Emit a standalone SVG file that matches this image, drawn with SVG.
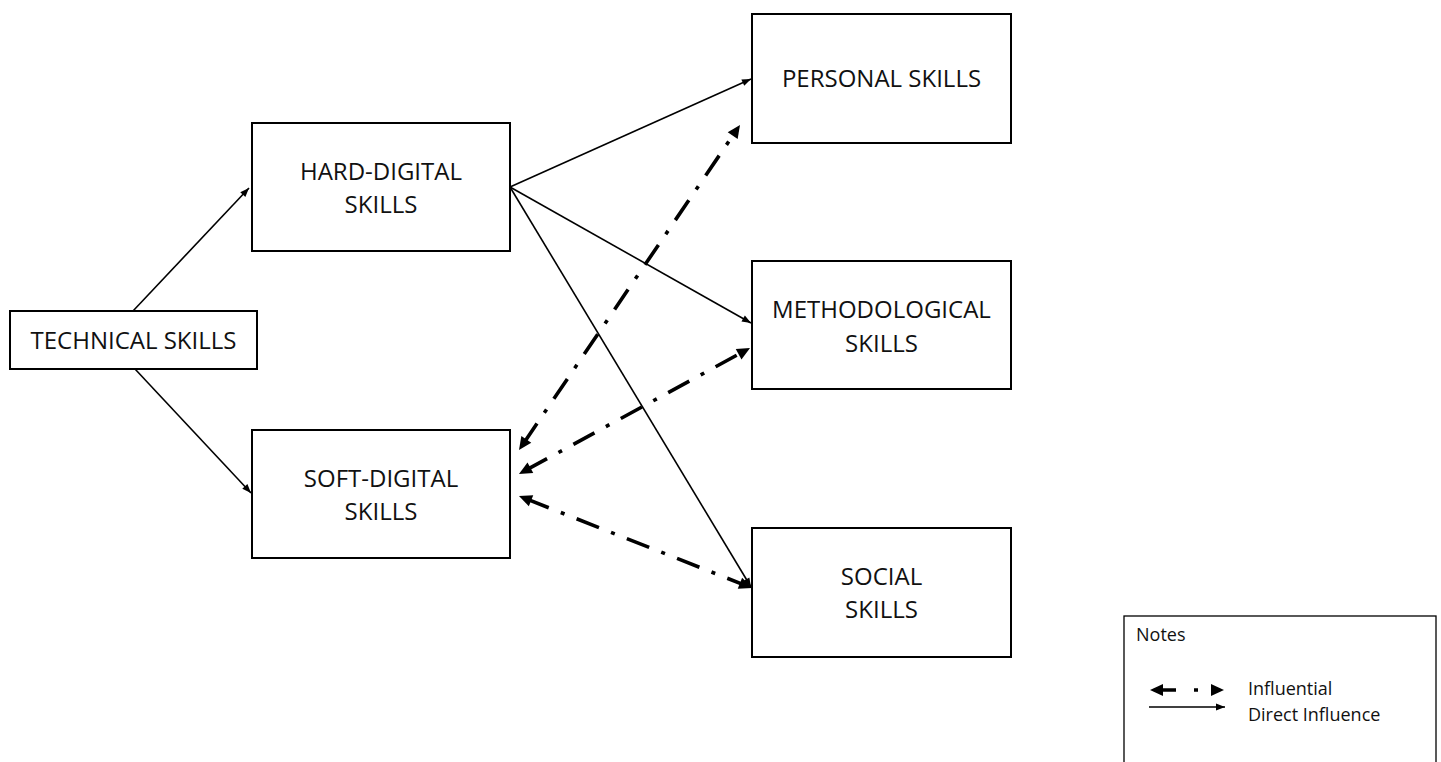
<svg xmlns="http://www.w3.org/2000/svg" width="1441" height="762" viewBox="0 0 1441 762">
  <style>
    .box { fill: #ffffff; stroke: #000000; stroke-width: 2; }
    .label { font-family: "Open Sans", "Noto Sans", "Liberation Sans", sans-serif; font-size: 24px; fill: #111111; text-anchor: middle; }
    .note { font-family: "Open Sans", "Noto Sans", "Liberation Sans", sans-serif; font-size: 18px; fill: #111111; }
    .direct { stroke: #000000; stroke-width: 1.6; fill: none; marker-end: url(#head-small); }
    .influence { stroke: #000000; stroke-width: 3.6; fill: none; stroke-dasharray: 24 13 4 13; marker-start: url(#head-big); marker-end: url(#head-big); }
  </style>
  <defs>
    <marker id="head-small" markerUnits="userSpaceOnUse" markerWidth="10" markerHeight="8" refX="9" refY="3.5" orient="auto" overflow="visible">
      <path d="M0,0 L9,3.5 L0,7 z" fill="#000000"/>
    </marker>
    <marker id="head-big" markerUnits="userSpaceOnUse" markerWidth="16" markerHeight="14" refX="5" refY="6" orient="auto-start-reverse" overflow="visible">
      <path d="M0,0 L13,6 L0,12 z" fill="#000000"/>
    </marker>
  </defs>

  <rect width="1441" height="762" fill="#ffffff"/>

  <!-- connectors -->
  <g id="connectors">
    <line class="direct" x1="133" y1="311" x2="249" y2="188"/>
    <line class="direct" x1="135" y1="369" x2="251" y2="493"/>
    <line class="direct" x1="510" y1="187" x2="751" y2="79"/>
    <line class="direct" x1="510" y1="187" x2="751" y2="323"/>
    <line class="direct" x1="510" y1="187" x2="751" y2="587"/>
    <line class="influence" x1="523.5" y1="443.4" x2="735.5" y2="131.6"/>
    <line class="influence" x1="526" y1="470.2" x2="743" y2="351.8"/>
    <line class="influence" x1="526.4" y1="498.9" x2="744.6" y2="585.1"/>
  </g>

  <!-- nodes -->
  <g id="technical">
    <rect class="box" x="10" y="311" width="247" height="58"/>
    <text class="label" x="133.5" y="349">TECHNICAL SKILLS</text>
  </g>
  <g id="hard-digital">
    <rect class="box" x="252" y="123" width="258" height="128"/>
    <text class="label" x="381" y="180">HARD-DIGITAL</text>
    <text class="label" x="381" y="213">SKILLS</text>
  </g>
  <g id="soft-digital">
    <rect class="box" x="252" y="430" width="258" height="128"/>
    <text class="label" x="381" y="487">SOFT-DIGITAL</text>
    <text class="label" x="381" y="520">SKILLS</text>
  </g>
  <g id="personal">
    <rect class="box" x="752" y="14" width="259" height="129"/>
    <text class="label" x="881.5" y="87">PERSONAL SKILLS</text>
  </g>
  <g id="methodological">
    <rect class="box" x="752" y="261" width="259" height="128"/>
    <text class="label" x="881.5" y="318">METHODOLOGICAL</text>
    <text class="label" x="881.5" y="352">SKILLS</text>
  </g>
  <g id="social">
    <rect class="box" x="752" y="528" width="259" height="129"/>
    <text class="label" x="881.5" y="585">SOCIAL</text>
    <text class="label" x="881.5" y="618">SKILLS</text>
  </g>

  <!-- legend -->
  <g id="notes">
    <rect x="1124" y="616" width="312" height="160" fill="#ffffff" stroke="#000000" stroke-width="1.3"/>
    <text class="note" x="1136" y="641">Notes</text>
    <line x1="1158" y1="690" x2="1216" y2="690" stroke="#000000" stroke-width="3.6" stroke-dasharray="18 18 4 100" marker-start="url(#head-big)" marker-end="url(#head-big)"/>
    <text class="note" x="1248" y="695">Influential</text>
    <line class="direct" x1="1149" y1="707" x2="1225" y2="707"/>
    <text class="note" x="1248" y="721">Direct Influence</text>
  </g>
</svg>
